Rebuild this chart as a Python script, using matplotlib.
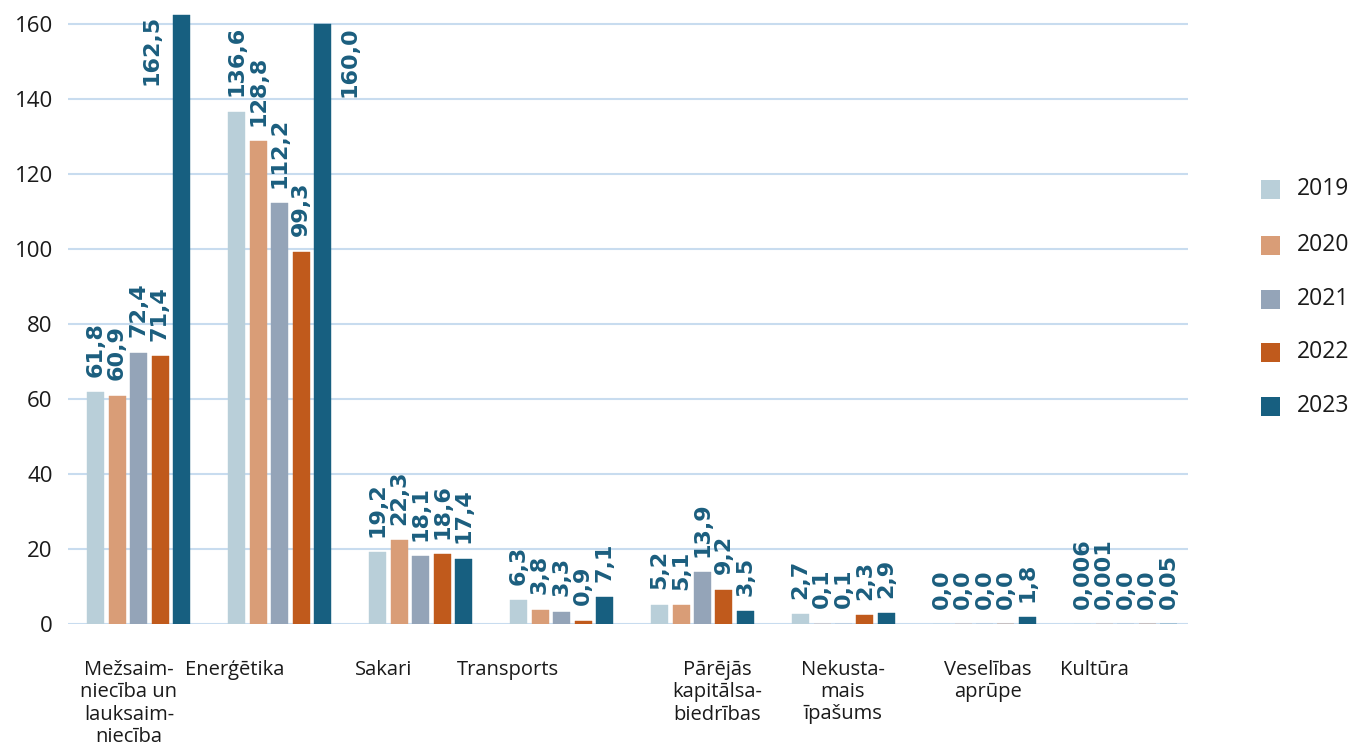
import matplotlib
matplotlib.use("Agg")
import matplotlib.pyplot as plt
from matplotlib.patches import Rectangle

# ---------------- data ----------------
categories = ["Mežsaim-\nniecība un\nlauksaim-\nniecība", "Enerģētika", "Sakari", "Transports",
              "Pārējās\nkapitālsa-\nbiedrības", "Nekusta-\nmais\nīpašums", "Veselības\naprūpe", "Kultūra"]
years = ["2019", "2020", "2021", "2022", "2023"]
v2019 = [61.8, 136.6, 19.2, 6.3, 5.2, 2.7, 0.0, 0.006]
v2020 = [60.9, 128.8, 22.3, 3.8, 5.1, 0.1, 0.0, 0.001]
v2021 = [72.4, 112.2, 18.1, 3.3, 13.9, 0.1, 0.0, 0.0]
v2022 = [71.4, 99.3, 18.6, 0.9, 9.2, 2.3, 0.0, 0.0]
v2023 = [162.5, 160.0, 17.4, 7.1, 3.5, 2.9, 1.8, 0.05]
series = [v2019, v2020, v2021, v2022, v2023]
yticks = [0, 20, 40, 60, 80, 100, 120, 140, 160]

# ---------------- style / layout ----------------
colors = ["#b9cfd9", "#d99d77", "#94a4b8", "#c05a1c", "#175f80"]
label_color = "#1b5e7e"
grid_color = "#c8dcef"
text_color = "#1a1a1a"

W, H = 1355, 749
fig = plt.figure(figsize=(W / 100, H / 100), dpi=100)
ax_left, ax_right = 68, 1188
y0_px = 624
px_per_unit = 3.75
ymax = 162.6
top_px = y0_px - ymax * px_per_unit
ax = fig.add_axes([ax_left / W, 1 - y0_px / H, (ax_right - ax_left) / W, (y0_px - top_px) / H])

# horizontal layout: group i centre at pixel c0 + i*gstep
c0, gstep = 138.5, 141.0
ax.set_xlim((ax_left - c0) / gstep, (ax_right - c0) / gstep)
ax.set_ylim(0, ymax)
bar_step = 21.5 / gstep
bar_w = 17 / gstep
cat_label_px = [129, 235, 384, 507.5, 717, 843, 988, 1094]
cat_label_x = [(p - c0) / gstep for p in cat_label_px]

for s in ax.spines.values():
    s.set_visible(False)
ax.set_yticks(yticks)
ax.set_yticklabels([str(t) for t in yticks], fontsize=16, color=text_color, family="Open Sans")
ax.tick_params(axis="y", length=0, pad=11)
ax.set_xticks([])
ax.grid(axis="y", color=grid_color, linewidth=1.5, zorder=0)
ax.set_axisbelow(True)


def fmt(v):
    if 0 < v < 0.1:
        s = repr(v)
    else:
        s = f"{v:.1f}"
    return s.replace(".", ",")


lab_kw = dict(rotation=90, fontsize=16, fontweight="bold", color=label_color,
              family="DejaVu Sans", textcoords="offset points")

for si, vals in enumerate(series):
    xs = [i + (si - 2) * bar_step for i in range(len(vals))]
    ax.bar(xs, vals, width=bar_w, color=colors[si], edgecolor=colors[si], linewidth=0.3, zorder=2)
    for gi, (x, v) in enumerate(zip(xs, vals)):
        if v >= 160:
            top = min(v, ymax)
            if gi == 0:
                ax.annotate(fmt(v), xy=(x - bar_w / 2, top), xytext=(-8, 0),
                            ha="right", va="top", **lab_kw)
            else:
                ax.annotate(fmt(v), xy=(x + bar_w / 2, top), xytext=(6, -2),
                            ha="left", va="top", **lab_kw)
        else:
            ax.annotate(fmt(v), xy=(x, v), xytext=(0, 11), ha="center", va="bottom", **lab_kw)

# category labels
trans = ax.get_xaxis_transform()
for lx, lab in zip(cat_label_x, categories):
    ax.text(lx, -(660 - y0_px) / (y0_px - top_px), lab, transform=trans, ha="center", va="top",
            fontsize=14.5, color=text_color, family="Open Sans", linespacing=1.15,
            multialignment="center")

# legend (manual, figure pixel coords)
leg_y = [189, 245, 299, 352, 406]
for yr, c, ly in zip(years, colors, leg_y):
    fig.patches.append(Rectangle((1261 / W, 1 - (ly + 9.5) / H), 19 / W, 19 / H,
                                 transform=fig.transFigure, facecolor=c, edgecolor="none"))
    fig.text(1297 / W, 1 - ly / H, yr, ha="left", va="center", fontsize=16.5,
             color=text_color, family="Open Sans")

fig.savefig("out.png", dpi=100)
